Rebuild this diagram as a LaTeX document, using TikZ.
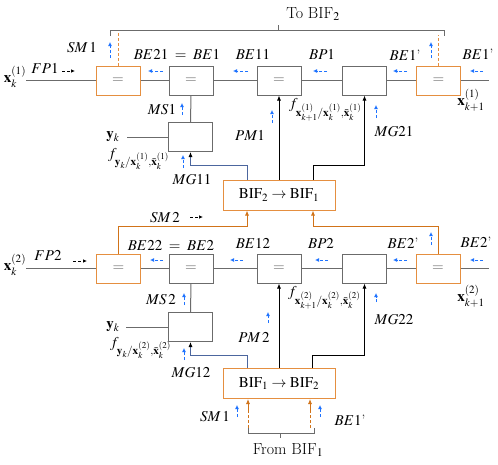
\documentclass[tikz,border=0pt]{standalone}
\usepackage{amsmath}
\usepackage{mathptmx}
\usetikzlibrary{arrows.meta}
\definecolor{morange}{rgb}{0.90, 0.56, 0.25}
\definecolor{dorange}{rgb}{0.82, 0.45, 0.10}
\definecolor{mblue}{rgb}{0.12, 0.45, 1.0}
\definecolor{mslate}{rgb}{0.30, 0.40, 0.62}
\definecolor{mgray}{gray}{0.42}
\tikzset{
  box/.style = {draw = mgray, fill = white, line width = 1, minimum width = 44, minimum height = 29, inner sep = 0, text = mgray},
  obox/.style = {box, draw = morange},
  bifbox/.style = {obox, minimum width = 112, minimum height = 30, text = black},
  wire/.style = {mgray, line width = 1},
  blk/.style = {black, line width = 0.8, -{Latex[length = 5, width = 4]}},
  slate/.style = {mslate, line width = 0.8, -{Latex[length = 5, width = 4, black]}},
  oarr/.style = {dorange, line width = 0.8, -{Latex[length = 5, width = 4]}},
  odash/.style = {morange, line width = 0.8, dash pattern = on 3 off 2},
  hint/.style = {mblue, line width = 0.8, dash pattern = on 3 off 2, -{Latex[length = 4, width = 4]}},
  fwd/.style = {black, line width = 0.7, dash pattern = on 3 off 2, -{Latex[length = 4, width = 3.5]}},
  brace/.style = {mgray, line width = 0.8},
  note/.style = {font = \fontsize{16}{19}\selectfont}
}
\begin{document}
\begin{tikzpicture}[x = 1pt, y = -1pt, font = \fontsize{15}{18}\selectfont, every node/.style = {inner sep = 1}]
      \useasboundingbox (0, 0) rectangle (498, 464);

      % upper filter
      \coordinate (in1) at (26, 80.5);
      \coordinate (out1) at (489, 80.5);
      \coordinate (y1) at (127, 137);
      \node [obox] (s1) at (118, 80.5) {$=$};
      \node [box] (e1) at (191, 80.5) {$=$};
      \node [box] (c1) at (279, 80.5) {$=$};
      \node [box] (p1) at (364.5, 80.5) {};
      \node [obox] (r1) at (438.5, 80.5) {$=$};
      \node [box] (g1) at (190.5, 137) {};
      \node [bifbox] (b21) at (279, 195) {$\mathrm{BIF}_2 \rightarrow \mathrm{BIF}_1$};

      \draw [wire] (in1) -- (s1) -- (e1) -- (c1) -- (p1) -- (r1) -- (out1);
      \draw [wire] (e1) -- (g1);
      \draw [wire] (y1) -- (g1);
      \draw [blk] (b21.north) -- (c1.south);
      \draw [blk] ([xshift = 34]b21.north) -- ++(0, -14) -| (p1.south);
      \draw [slate] ([xshift = -32]b21.north) -- ++(0, -14) -| (g1.south);
      \draw [odash] (s1.north) -- ++(0, -33);
      \draw [odash] (r1.north) -- ++(0, -31);

      \draw [brace] (110, 36) -- (110, 30) -- (444, 30) -- (444, 36);
      \draw [brace] (278, 30) -- (278, 25);
      \node [note] (to2) at (313, 14) {To BIF$_2$};

      \node (xk1) at (15, 77) {$\mathbf{x}_k^{(1)}$};
      \node (xn1) at (471, 100) {$\mathbf{x}_{k+1}^{(1)}$};
      \node (yk1) at (113, 137) {$\mathbf{y}_k$};
      \node (fp1) at (45, 68) {$FP1$};
      \node (sm1) at (82, 48) {$SM\,1$};
      \node (be1) at (177, 54) {$BE21 \;=\; BE1$};
      \node (be11) at (253, 54) {$BE11$};
      \node (bp1) at (322, 54) {$BP1$};
      \node (bq1) at (405, 55) {$BE1$'};
      \node (bs1) at (478, 54) {$BE1$'};
      \node (ms1) at (162, 110) {$MS1$};
      \node (pm1) at (250, 135) {$PM1$};
      \node (mg21) at (394, 132) {$MG21$};
      \node (mg11) at (192, 180) {$MG11$};
      \node [anchor = west] (fy1) at (107, 159) {$f_{\mathbf{y}_k/\mathbf{x}_k^{(1)},\bar{\mathbf{x}}_k^{(1)}}$};
      \node [anchor = west] (fx1) at (288, 110) {$f_{\mathbf{x}_{k+1}^{(1)}/\mathbf{x}_k^{(1)},\bar{\mathbf{x}}_k^{(1)}}$};

      \draw [fwd] (62, 71) -- (75, 71);
      \draw [hint] (110, 58) -- (110, 42);
      \draw [hint] (431, 58) -- (431, 42);
      \draw [hint] (163, 71) -- (148, 71);
      \draw [hint] (248, 71) -- (233, 71);
      \draw [hint] (327, 71) -- (313, 71);
      \draw [hint] (407, 71) -- (393, 71);
      \draw [hint] (483, 71) -- (470, 71);
      \draw [hint] (182, 115) -- (182, 103);
      \draw [hint] (183, 168) -- (183, 155);
      \draw [hint] (272, 123) -- (272, 110);
      \draw [hint] (376, 118) -- (376, 105);

      % lower filter
      \coordinate (in2) at (26, 268.5);
      \coordinate (out2) at (489, 268.5);
      \coordinate (y2) at (126, 327);
      \node [obox] (s2) at (118.5, 268.5) {$=$};
      \node [box] (e2) at (191, 268.5) {$=$};
      \node [box] (c2) at (279, 268.5) {$=$};
      \node [box] (p2) at (364.5, 268.5) {};
      \node [obox] (r2) at (438, 268.5) {$=$};
      \node [box] (g2) at (190.5, 327) {};
      \node [bifbox] (b12) at (279, 383.5) {$\mathrm{BIF}_1 \rightarrow \mathrm{BIF}_2$};

      \draw [wire] (in2) -- (s2) -- (e2) -- (c2) -- (p2) -- (r2) -- (out2);
      \draw [wire] (e2) -- (g2);
      \draw [wire] (y2) -- (g2);
      \draw [blk] (b12.north) -- (c2.south);
      \draw [blk] ([xshift = 33]b12.north) -- ++(0, -13) -| (p2.south);
      \draw [slate] ([xshift = -32]b12.north) -- ++(0, -13) -| (g2.south);
      \draw [oarr] (s2.north) -- ++(0, -27) -| ([xshift = -32]b21.south);
      \draw [oarr] (r2.north) -- ++(0, -27) -| ([xshift = 34]b21.south);

      \node (xk2) at (15, 265) {$\mathbf{x}_k^{(2)}$};
      \node (xn2) at (471, 296) {$\mathbf{x}_{k+1}^{(2)}$};
      \node (yk2) at (113, 327) {$\mathbf{y}_k$};
      \node (fp2) at (48, 255) {$FP2$};
      \node (sm2) at (165, 218) {$SM\,2$};
      \node (be2) at (171, 245) {$BE22 \;=\; BE2$};
      \node (be12) at (253, 243) {$BE12$};
      \node (bp2) at (321, 243) {$BP2$};
      \node (bq2) at (403, 243) {$BE2$'};
      \node (bs2) at (476, 242) {$BE2$'};
      \node (ms2) at (161, 300) {$MS\,2$};
      \node (pm2) at (254, 337) {$PM\,2$};
      \node (mg22) at (394, 320) {$MG22$};
      \node (mg12) at (191, 373) {$MG12$};
      \node [anchor = west] (fy2) at (109, 348) {$f_{\mathbf{y}_k/\mathbf{x}_k^{(2)},\bar{\mathbf{x}}_k^{(2)}}$};
      \node [anchor = west] (fx2) at (287, 298) {$f_{\mathbf{x}_{k+1}^{(2)}/\mathbf{x}_k^{(2)},\bar{\mathbf{x}}_k^{(2)}}$};

      \draw [fwd] (190, 217) -- (203, 217);
      \draw [fwd] (73, 261) -- (87, 261);
      \draw [hint] (431, 245) -- (431, 232);
      \draw [hint] (163, 260) -- (150, 260);
      \draw [hint] (243, 260) -- (230, 260);
      \draw [hint] (328, 260) -- (315, 260);
      \draw [hint] (407, 260) -- (393, 260);
      \draw [hint] (483, 260) -- (470, 260);
      \draw [hint] (184, 305) -- (184, 293);
      \draw [hint] (184, 360) -- (184, 348);
      \draw [hint] (268, 323) -- (268, 312);
      \draw [hint] (376, 302) -- (376, 293);

      % inputs from the other filter
      \coordinate (from1) at (248, 428);
      \coordinate (from2) at (310, 428);
      \draw [oarr, dash pattern = on 3 off 2 on 3 off 2 on 3 off 2 on 30] (from1) -- (from1 |- b12.south);
      \draw [oarr, dash pattern = on 3 off 2 on 3 off 2 on 3 off 2 on 30] (from2) -- (from2 |- b12.south);
      \draw [brace] (248, 428) -- (248, 433) -- (314, 433) -- (314, 428);
      \draw [brace] (280, 433) -- (280, 438);
      \node [note] (fr1) at (288, 450) {From BIF$_1$};
      \node (sm1b) at (215, 417) {$SM\,1$};
      \node (bq1b) at (350, 420) {$BE1$'};
      \draw [hint] (237, 417) -- (237, 405);
      \draw [hint] (320, 417) -- (320, 405);
\end{tikzpicture}
\end{document}
